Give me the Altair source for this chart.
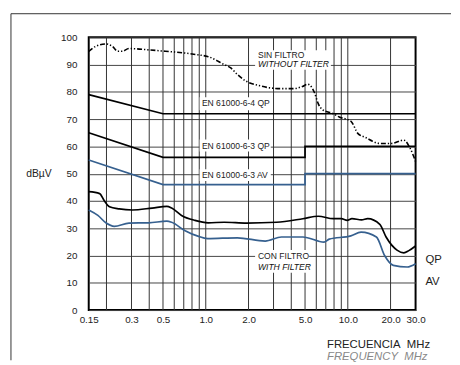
import altair as alt
import pandas as pd

# ---------------- data ----------------
# Unfiltered (SIN FILTRO / WITHOUT FILTER)
nf_freq = [0.15, 0.165, 0.199, 0.221, 0.24, 0.258, 0.288, 0.4, 0.518, 0.7, 0.881, 1.03, 1.35,
           1.5, 1.67, 1.86, 2.42, 3.37, 4.1, 4.8, 5.23, 5.82, 6.2, 6.64, 7.9, 8.7, 10.5, 11.8,
           13.3, 16.8, 20.2, 24.8, 27.3, 30.0]
nf_db = [94.8, 96.5, 97.6, 96.6, 94.9, 94.9, 95.9, 95.4, 94.9, 94.3, 93.6, 93.0, 90.0,
         88.8, 86.4, 84.4, 82.2, 81.2, 81.2, 82.0, 82.8, 79.8, 75.6, 73.5, 72.0, 70.8, 69.3, 64.7,
         63.3, 61.1, 61.1, 62.3, 59.6, 54.5]

# Filtered QP (CON FILTRO)
qp_freq = [0.15, 0.179, 0.193, 0.21, 0.246, 0.304, 0.419, 0.532, 0.575, 0.675, 0.838, 1.04,
           1.35, 1.94, 3.15, 4.83, 6.2, 7.9, 9.0, 9.9, 10.7, 12.5, 13.8, 16.8, 18.6, 22.2,
           24.8, 26.9, 30.0]
qp_db = [43.4, 42.7, 40.1, 37.9, 37.1, 36.7, 37.4, 38.0, 37.4, 34.7, 32.9, 32.0,
         32.2, 31.9, 32.2, 33.5, 34.4, 33.5, 33.5, 32.9, 33.5, 33.1, 33.5, 31.4, 26.8, 22.0,
         21.0, 21.8, 23.5]

# Filtered AV (CON FILTRO)
av_freq = [0.15, 0.174, 0.199, 0.227, 0.288, 0.397, 0.532, 0.575, 0.71, 0.88, 1.03, 1.67,
           2.62, 3.41, 4.83, 6.8, 7.4, 10.5, 12.4, 15.9, 18.2, 20.9, 26.2, 30.0]
av_db = [36.7, 34.7, 31.9, 30.7, 31.9, 32.0, 32.6, 32.2, 29.2, 27.1, 26.2, 26.5,
         25.3, 26.8, 26.8, 24.9, 26.0, 27.2, 28.6, 26.8, 19.9, 16.4, 15.8, 17.0]

# Limit lines
lim64qp_freq = [0.15, 0.5, 30.0]
lim64qp_db = [79, 72, 72]
lim63qp_freq = [0.15, 0.5, 5.0, 5.0, 30.0]
lim63qp_db = [65, 56, 56, 60, 60]
lim63av_freq = [0.15, 0.5, 5.0, 5.0, 30.0]
lim63av_db = [55, 46, 46, 50, 50]

# axis / grid
x_tick_values = [0.15, 0.3, 0.5, 1.0, 2.0, 5.0, 10.0, 20.0, 30.0]
x_grid_values = [0.2, 0.3, 0.4, 0.5, 0.6, 0.7, 0.8, 0.9, 1, 2, 3, 4, 5, 6, 7, 8, 9, 10, 20]
y_tick_values = [0, 10, 20, 30, 40, 50, 60, 70, 80, 90, 100]

# annotations
ann_text = ["SIN FILTRO", "WITHOUT FILTER", "EN 61000-6-4 QP", "EN 61000-6-3 QP",
            "EN 61000-6-3 AV", "CON FILTRO", "WITH FILTER"]
ann_freq = [2.33, 2.33, 0.939, 0.939, 0.939, 2.33, 2.33]
ann_db = [93.5, 90.3, 75.8, 60.3, 49.5, 19.9, 15.9]
ann_italic = [0, 1, 0, 0, 0, 0, 1]

box_f1 = [2.225, 0.906, 0.906, 0.906, 2.225]
box_f2 = [7.6, 2.87, 2.87, 2.87, 5.34]
box_d1 = [88.1, 73.3, 58.1, 47.3, 13.7]
box_d2 = [95.3, 78.0, 62.5, 51.6, 22.0]

side_text = ["QP", "AV"]
side_db = [18.4, 10.1]

x_title_1 = "FRECUENCIA\u00a0\u00a0MHz"
x_title_2 = "FREQUENCY\u00a0\u00a0MHz"

# ---------------- chart ----------------
W, H = 332, 277
FONT = "Liberation Sans"
BLUE = "#36608f"

xs = alt.Scale(type="log", domain=[0.15, 30], nice=False)
ys = alt.Scale(domain=[0, 100], nice=False)

X_AX = alt.Axis(
    values=x_tick_values, labelExpr="datum.value < 0.2 ? '0.15' : format(datum.value, '.1f')",
    title=None, grid=False, ticks=False, domain=False, labelPadding=5,
    labelFontSize=10, labelColor="#222", labelFont=FONT, labelOverlap=False, labelFlush=False)
Y_AX = alt.Axis(
    values=y_tick_values, grid=True, gridColor="#444", gridWidth=1, ticks=False, tickSize=0,
    domain=False, labelPadding=12, labelFontSize=10, labelColor="#222", labelFont=FONT,
    title="dBµV", titleAngle=0, titleX=-64, titleY=138, titleAlign="left",
    titleBaseline="middle", titleFontSize=10.5, titleFontWeight="normal", titleFont=FONT,
    titleColor="#222")


def X(field):
    return alt.X(field, scale=xs, axis=X_AX)


def Y(field):
    return alt.Y(field, scale=ys, axis=Y_AX)


def line_df(f, v):
    return pd.DataFrame({"f": f, "v": v, "o": list(range(len(f)))})


grid = alt.Chart(pd.DataFrame({"f": x_grid_values})).mark_rule(
    color="#333", strokeWidth=1
).encode(x=X("f:Q"))

yaxis_layer = alt.Chart(pd.DataFrame({"v": [0]})).mark_point(opacity=0).encode(y=Y("v:Q"))

boxes = alt.Chart(pd.DataFrame({"f1": box_f1, "f2": box_f2, "d1": box_d1, "d2": box_d2})).mark_rect(
    color="white"
).encode(x=X("f1:Q"), x2="f2:Q", y=Y("d1:Q"), y2="d2:Q")


def lchart(f, v, color, width=1.6, dash=None, interp="linear"):
    kw = dict(color=color, strokeWidth=width, interpolate=interp)
    if dash:
        kw["strokeDash"] = dash
    return alt.Chart(line_df(f, v)).mark_line(**kw).encode(
        x=X("f:Q"), y=Y("v:Q"), order="o:Q")


l64 = lchart(lim64qp_freq, lim64qp_db, "black", 1.7)
l63 = lchart(lim63qp_freq, lim63qp_db, "black", 1.7)
l63av = lchart(lim63av_freq, lim63av_db, BLUE, 1.7)
nf = lchart(nf_freq, nf_db, "black", 1.6, dash=[5, 2, 1.3, 2, 1.3, 2], interp="monotone")
qp = lchart(qp_freq, qp_db, "black", 1.7, interp="monotone")
av = lchart(av_freq, av_db, BLUE, 1.7, interp="monotone")

ann_df = pd.DataFrame({"t": ann_text, "f": ann_freq, "v": ann_db, "it": ann_italic})
ann_normal = alt.Chart(ann_df).transform_filter("datum.it == 0").mark_text(
    align="left", baseline="middle", fontSize=8.7, font=FONT, color="#222"
).encode(x=X("f:Q"), y=Y("v:Q"), text="t:N")
ann_ital = alt.Chart(ann_df).transform_filter("datum.it == 1").mark_text(
    align="left", baseline="middle", fontSize=8.7, font=FONT, color="#111", fontStyle="italic"
).encode(x=X("f:Q"), y=Y("v:Q"), text="t:N")

side = alt.Chart(pd.DataFrame({"t": side_text, "v": side_db})).mark_text(
    align="left", baseline="middle", fontSize=11.5, font=FONT, color="#222"
).encode(x=alt.value(W + 10), y=Y("v:Q"), text="t:N")

one = pd.DataFrame({"a": [0]})
xt1 = alt.Chart(pd.DataFrame({"t": [x_title_1]})).mark_text(
    align="left", baseline="middle", fontSize=11.5, font=FONT, color="#222"
).encode(x=alt.value(242), y=alt.value(313), text="t:N")
xt2 = alt.Chart(pd.DataFrame({"t": [x_title_2]})).mark_text(
    align="left", baseline="middle", fontSize=11.5, font=FONT, color="#888", fontStyle="italic"
).encode(x=alt.value(242), y=alt.value(325), text="t:N")

frame_left = alt.Chart(one).mark_rule(color="#333", strokeWidth=1).encode(
    x=alt.value(-79), y=alt.value(-24), y2=alt.value(328))
frame_top = alt.Chart(one).mark_rule(color="#333", strokeWidth=1).encode(
    x=alt.value(-79), x2=alt.value(368), y=alt.value(-24))

chart = alt.layer(
    grid, yaxis_layer, boxes, l64, l63, l63av, nf, qp, av,
    ann_normal, ann_ital, side, xt1, xt2, frame_left, frame_top
).properties(
    width=W, height=H,
    padding={"left": 2, "top": 2, "right": 0, "bottom": 0},
    background="white",
).configure_view(
    stroke="black", strokeWidth=2
)

chart.save("out.html", embed_options={"renderer": "svg", "actions": False})
